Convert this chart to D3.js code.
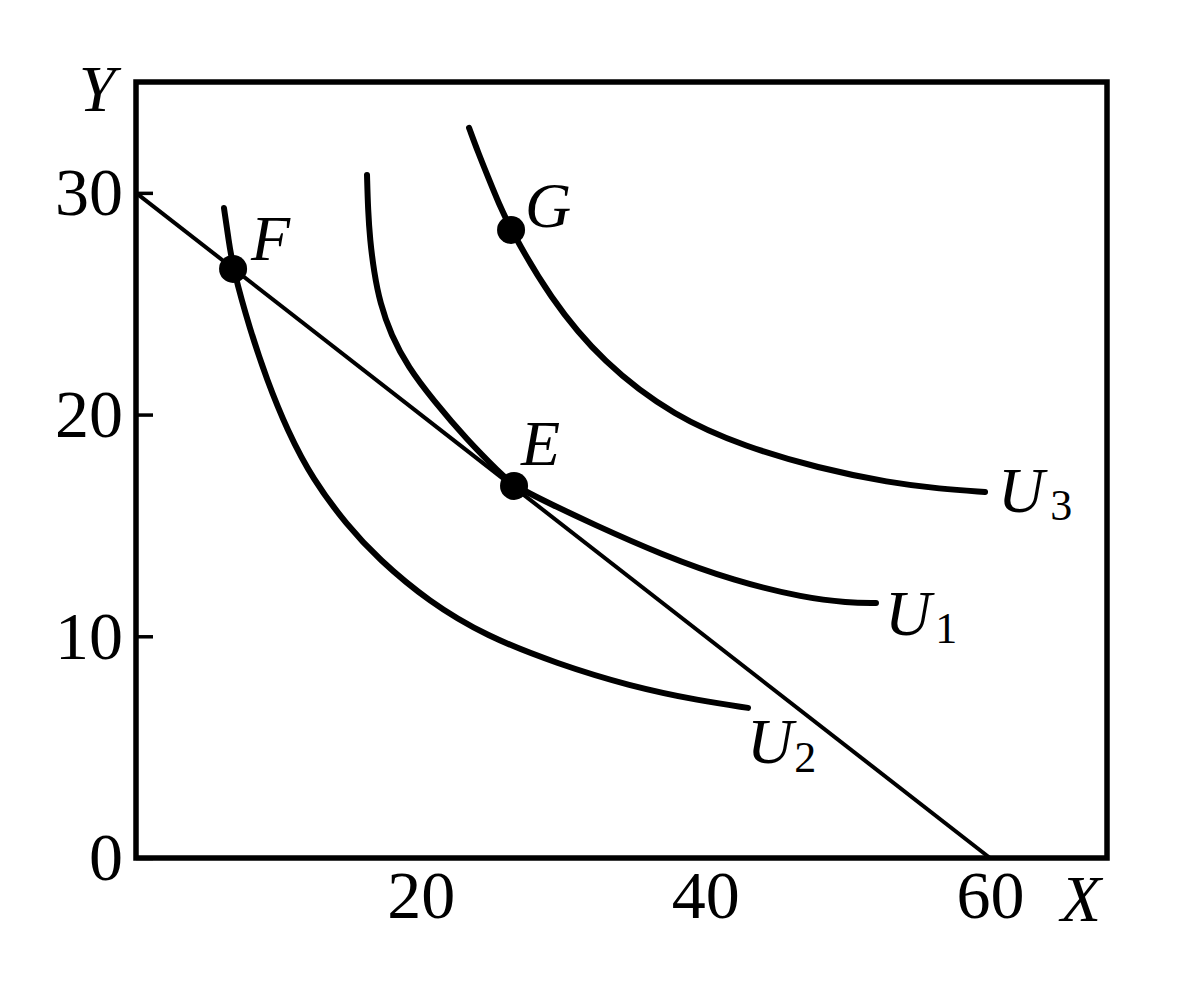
<!DOCTYPE html>
<html>
<head>
<meta charset="utf-8">
<script src="https://cdn.jsdelivr.net/npm/d3@7"></script>
<style>
  html, body { margin: 0; padding: 0; background: #fff; }
  svg { display: block; }
</style>
</head>
<body>
<svg id="chart" width="1181" height="992"></svg>
<script>
// ---- data ----
const xTicks = [20, 40, 60];
const yTicks = [0, 10, 20, 30];
const xLabel = "X";
const yLabel = "Y";

const budgetLine = [[0, 30], [60, 0]];

const u1 = [[16.23, 30.81], [16.30, 29.23], [16.44, 27.88], [16.72, 26.44], [17.14, 25.04], [17.92, 23.59], [19.11, 22.15],
            [20.87, 20.66], [23.26, 18.86], [25.57, 17.37], [26.56, 16.78], [29.20, 15.95], [31.97, 15.10],
            [36.96, 13.67], [42.01, 12.50], [47.00, 11.73], [50.00, 11.52], [51.99, 11.50]];
const u2 = [[6.18, 29.32], [6.50, 27.90], [6.82, 26.57], [8.01, 23.82], [9.20, 21.56], [10.61, 19.31],
            [12.44, 17.05], [14.82, 15.02], [17.00, 13.50], [20.59, 11.55], [24.59, 10.01],
            [29.65, 8.75], [34.64, 7.76], [39.70, 7.08], [43.00, 6.77]];
const u3 = [[23.40, 32.93], [24.05, 31.80], [24.73, 30.72], [25.50, 29.50], [26.35, 28.33], [29.02, 25.31], [32.81, 22.33],
            [37.87, 19.89], [42.86, 18.54], [47.92, 17.59], [52.98, 16.92], [56.50, 16.65], [59.65, 16.51]];

const curveNames = ["U", "U", "U"];
const curveSubs = ["1", "2", "3"];

const pointNames = ["F", "E", "G"];
const pointXs = [6.82, 26.56, 26.35];
const pointYs = [26.57, 16.78, 28.33];

// ---- layout ----
const svg = d3.select("#chart");
const mLeft = 136, mRight = 1107, mTop = 82, mBottom = 858;
const x = d3.scaleLinear().domain([0, 68.22]).range([mLeft, mRight]);
const y = d3.scaleLinear().domain([0, 35.0]).range([mBottom, mTop]);
const serif = "'Liberation Serif', 'Times New Roman', serif";

// y axis ticks (inward)
const gy = svg.append("g").attr("transform", `translate(${mLeft},0)`)
  .call(d3.axisLeft(y).tickValues(yTicks).tickSize(-17).tickPadding(13).tickFormat(d3.format("d")));
gy.select(".domain").remove();
gy.attr("font-family", serif).attr("font-size", 68);
gy.selectAll(".tick line").attr("stroke", "#000").attr("stroke-width", 3.5);
gy.selectAll(".tick text").attr("fill", "#000");

// x axis labels
const gx = svg.append("g").attr("transform", `translate(0,${mBottom})`)
  .call(d3.axisBottom(x).tickValues(xTicks).tickSize(0).tickPadding(12).tickFormat(d3.format("d")));
gx.select(".domain").remove();
gx.attr("font-family", serif).attr("font-size", 68);
gx.selectAll(".tick text").attr("fill", "#000");

// frame
svg.append("rect")
  .attr("x", mLeft).attr("y", mTop)
  .attr("width", mRight - mLeft).attr("height", mBottom - mTop)
  .attr("fill", "none").attr("stroke", "#000").attr("stroke-width", 5.5);

// axis titles
svg.append("text").attr("x", 97).attr("y", 111).attr("text-anchor", "middle")
  .attr("font-family", serif).attr("font-style", "italic").attr("font-size", 66).text(yLabel);
svg.append("text").attr("x", 1081).attr("y", 921).attr("text-anchor", "middle")
  .attr("font-family", serif).attr("font-style", "italic").attr("font-size", 66).text(xLabel);

// budget line
const line = d3.line().x(d => x(d[0])).y(d => y(d[1]));
svg.append("path").datum(budgetLine).attr("d", line)
  .attr("fill", "none").attr("stroke", "#000").attr("stroke-width", 4);

// indifference curves
const curve = d3.line().x(d => x(d[0])).y(d => y(d[1])).curve(d3.curveBasis);
const curves = [u1, u2, u3];
curves.forEach(c => {
  svg.append("path").datum(c).attr("d", curve)
    .attr("fill", "none").attr("stroke", "#000").attr("stroke-width", 6)
    .attr("stroke-linecap", "round");
});

// curve labels (offsets from curve ends)
const labelOffsets = [[9, 32, 4, 8], [-1, 55, 1, 9], [13, 20, 6, 8]];
curves.forEach((c, i) => {
  const end = c[c.length - 1];
  const [ox, oy, sx, sy] = labelOffsets[i];
  const t = svg.append("text")
    .attr("x", x(end[0]) + ox).attr("y", y(end[1]) + oy)
    .attr("font-family", serif).attr("fill", "#000");
  t.append("tspan").attr("font-style", "italic").attr("font-size", 64).text(curveNames[i]);
  t.append("tspan").attr("font-size", 44).attr("dx", sx).attr("dy", sy).text(curveSubs[i]);
});

// points
const pts = pointNames.map((n, i) => ({ n, px: pointXs[i], py: pointYs[i] }));
svg.selectAll("circle.pt").data(pts).enter().append("circle")
  .attr("class", "pt")
  .attr("cx", d => x(d.px)).attr("cy", d => y(d.py)).attr("r", 14).attr("fill", "#000");

const ptOffsets = { F: [18, -9], E: [7, -21], G: [14, -3] };
svg.selectAll("text.pl").data(pts).enter().append("text")
  .attr("class", "pl")
  .attr("x", d => x(d.px) + ptOffsets[d.n][0])
  .attr("y", d => y(d.py) + ptOffsets[d.n][1])
  .attr("font-family", serif).attr("font-style", "italic").attr("font-size", 64)
  .text(d => d.n);
</script>
</body>
</html>
